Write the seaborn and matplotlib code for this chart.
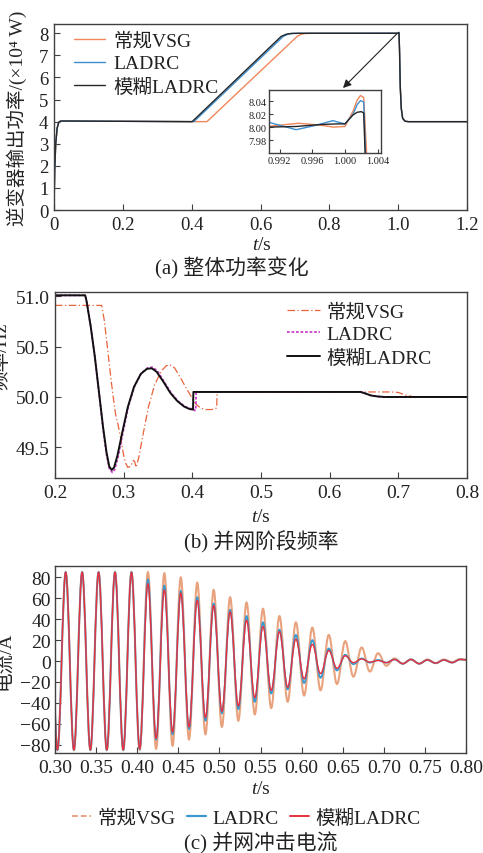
import matplotlib
matplotlib.use("Agg")
import numpy as np
import pandas as pd
import seaborn as sns
from matplotlib import pyplot as plt
from matplotlib.path import Path
from matplotlib.patches import PathPatch
from matplotlib.lines import Line2D

sns.set_theme(style="ticks")
plt.rcParams["font.family"] = ["Liberation Serif", "Noto Sans CJK SC"]
plt.rcParams["mathtext.fontset"] = "custom"
plt.rcParams["mathtext.rm"] = "Liberation Serif"
plt.rcParams["mathtext.it"] = "Liberation Serif:italic"
plt.rcParams["xtick.direction"] = "in"
plt.rcParams["ytick.direction"] = "in"
plt.rcParams["axes.edgecolor"] = "#404040"
plt.rcParams["axes.linewidth"] = 1.0
plt.rcParams["text.color"] = "#222222"
plt.rcParams["xtick.color"] = "#404040"
plt.rcParams["ytick.color"] = "#404040"
plt.rcParams["xtick.labelcolor"] = "#222222"
plt.rcParams["ytick.labelcolor"] = "#222222"

names = ["常规VSG", "LADRC", "模糊LADRC"]

# ---- (a) inverter output power, x10^4 W ----
t_a_vsg = [0, 0.002, 0.005, 0.009, 0.014, 0.02, 0.443, 0.445, 0.708, 0.72, 0.73, 0.745,
           0.9905, 0.9943, 0.997, 0.9986, 1.0, 1.001, 1.0015, 1.0019, 1.0023, 1.0027,
           1.004, 1.006, 1.009, 1.013, 1.02, 1.03, 1.2]
p_a_vsg = [0, 1.8, 3.0, 3.7, 3.98, 4.03, 4.0, 4.01, 7.88, 7.96, 7.99, 8.0,
           8.001, 8.006, 8.003, 8.000, 8.001, 8.025, 8.042, 8.049, 8.046, 7.95,
           7.2, 5.6, 4.6, 4.15, 4.02, 4.0, 4.0]
t_a_ladrc = [0, 0.002, 0.005, 0.009, 0.014, 0.02, 0.405, 0.407, 0.666, 0.68, 0.695, 0.715,
             0.9905, 0.994, 0.9965, 0.9985, 1.0, 1.001, 1.0015, 1.0019, 1.0023, 1.00255,
             1.004, 1.006, 1.009, 1.013, 1.02, 1.03, 1.2]
p_a_ladrc = [0, 1.8, 3.0, 3.7, 3.98, 4.03, 4.0, 4.01, 7.86, 7.96, 7.995, 8.0,
             8.008, 7.996, 8.003, 8.010, 8.005, 8.020, 8.035, 8.041, 8.039, 7.95,
             7.2, 5.6, 4.6, 4.15, 4.02, 4.0, 4.0]
t_a_fuzzy = [0, 0.002, 0.005, 0.009, 0.014, 0.02, 0.400, 0.402, 0.66, 0.675, 0.69, 0.71,
             0.9905, 0.994, 0.997, 0.999, 1.0, 1.0005, 1.001, 1.0015, 1.002, 1.0023, 1.0025,
             1.004, 1.006, 1.009, 1.013, 1.02, 1.03, 1.2]
p_a_fuzzy = [0, 1.8, 3.0, 3.7, 3.98, 4.03, 4.0, 4.01, 7.86, 7.96, 7.995, 8.0,
             8.000, 8.001, 8.004, 8.005, 8.005, 8.012, 8.019, 8.023, 8.024, 8.022, 7.95,
             7.2, 5.6, 4.6, 4.15, 4.02, 4.0, 4.0]

# ---- (b) frequency during grid connection, Hz ----
t_b_vsg = [0.20, 0.268, 0.272, 0.277, 0.282, 0.2875, 0.289, 0.292, 0.296, 0.300, 0.303, 0.306,
           0.310, 0.314, 0.316, 0.318, 0.322, 0.328, 0.336, 0.345, 0.355, 0.362, 0.3676,
           0.374, 0.382, 0.390, 0.397, 0.4016, 0.405, 0.412, 0.420, 0.428, 0.4355, 0.436,
           0.69, 0.70, 0.71, 0.72, 0.73, 0.80]
f_b_vsg = [50.91, 50.91, 50.75, 50.45, 50.15, 49.86, 49.80, 49.72, 49.58, 49.42, 49.34, 49.30,
           49.31, 49.37, 49.36, 49.30, 49.40, 49.62, 49.90, 50.12, 50.26, 50.31, 50.32,
           50.29, 50.20, 50.10, 50.02, 49.965, 49.93, 49.89, 49.875, 49.875, 49.89, 50.05,
           50.05, 50.045, 50.02, 50.005, 50.0, 50.0]
t_b_ladrc = [0.20, 0.244, 0.246, 0.252, 0.258, 0.264, 0.270, 0.275, 0.279, 0.2835, 0.287,
             0.292, 0.299, 0.307, 0.316, 0.326, 0.335, 0.342, 0.349, 0.359, 0.369, 0.379,
             0.389, 0.397, 0.4016, 0.4035, 0.405, 0.4055, 0.645, 0.652, 0.660, 0.670, 0.68, 0.80]
f_b_ladrc = [51.01, 51.01, 50.95, 50.70, 50.40, 50.04, 49.68, 49.43, 49.29, 49.25, 49.28,
             49.41, 49.65, 49.91, 50.11, 50.24, 50.29, 50.295, 50.26, 50.15, 50.04, 49.96,
             49.905, 49.885, 49.88, 49.865, 49.87, 50.05, 50.05, 50.035, 50.015, 50.005, 50.0, 50.0]
t_b_fuzzy = [0.20, 0.244, 0.246, 0.252, 0.258, 0.264, 0.270, 0.275, 0.279, 0.2825, 0.286,
             0.291, 0.298, 0.306, 0.315, 0.325, 0.334, 0.341, 0.348, 0.358, 0.368, 0.378,
             0.388, 0.396, 0.401, 0.4015, 0.645, 0.652, 0.660, 0.670, 0.68, 0.80]
f_b_fuzzy = [51.01, 51.01, 50.95, 50.70, 50.40, 50.05, 49.70, 49.45, 49.31, 49.275, 49.30,
             49.42, 49.65, 49.90, 50.10, 50.23, 50.28, 50.285, 50.25, 50.15, 50.04, 49.96,
             49.905, 49.88, 49.875, 50.05, 50.05, 50.035, 50.015, 50.005, 50.0, 50.0]

# ---- (c) inrush current, A: successive peaks/troughs of the 50 Hz wave ----
t_c_ext = [0.293, 0.303, 0.313, 0.323, 0.333, 0.343, 0.353, 0.363, 0.373, 0.383, 0.393,
           0.403, 0.413, 0.423, 0.433, 0.443, 0.453, 0.463, 0.473, 0.483, 0.493,
           0.503, 0.513, 0.523, 0.533, 0.543, 0.553, 0.563, 0.573, 0.583, 0.593,
           0.603, 0.613, 0.623, 0.633, 0.643, 0.653, 0.663, 0.673, 0.683, 0.693,
           0.703, 0.713, 0.723, 0.733, 0.743, 0.753, 0.763, 0.773, 0.783, 0.793, 0.803]
i_c_vsg = [85, -85, 85, -85, 85, -85, 85, -85, 85, -85, 85,
           -85, 85, -84, 84, -81, 80, -75, 75, -70, 68,
           -63, 61, -57, 56, -51, 50, -45, 43, -39, 37,
           -33, 32, -28, 25, -22, 19, -15, 13, -10, 7.5,
           -4.5, 2.5, -2.5, 1.5, -2.5, 1.5, -2, 1.5, -1, 2, 1]
i_c_ladrc = [85, -85, 85, -85, 85, -85, 85, -85, 85, -85, 85,
             -84, 78, -75, 72, -70, 67, -65, 61, -57, 55,
             -50, 49, -46, 43, -39, 37, -31, 30, -27, 25,
             -21, 20, -16, 12, -9, 6, -3, 2.5, -1.5, 1,
             -1.5, 1.5, -2.5, 1.5, -2.5, 1, -2, 1, -1.5, 1.5, 1]
i_c_fuzzy = [85, -85, 85, -85, 85, -85, 85, -85, 85, -85, 85,
             -84, 74, -74, 68, -68, 65, -63, 58, -54, 53,
             -48, 47, -43, 39, -35, 33, -28, 28, -25, 21,
             -17, 16, -12, 10, -7, 5, -1.5, 2, -1, 0.5,
             -1.5, 1.5, -2.5, 1.5, -2.5, 1, -2, 1, -1.5, 1.5, 1]

col_a = ["#f0875a", "#3d8fd0", "#262626"]
col_c = ["#e9a27e", "#3a9ad0", "#e8323e"]

fig = plt.figure(figsize=(4.83, 8.54), dpi=100)
fig.patch.set_facecolor("white")


def style_ax(ax, size):
    ax.tick_params(axis="both", which="both", direction="in", length=4, width=0.8,
                   labelsize=size, top=False, right=False, pad=4)
    for s in ax.spines.values():
        s.set_visible(True)
        s.set_color("#404040")
        s.set_linewidth(1.0)


# ================= (a) =================
ax1 = fig.add_axes([0.1118, 0.7529, 0.8551, 0.2178])
series_a = [(t_a_vsg, p_a_vsg), (t_a_ladrc, p_a_ladrc), (t_a_fuzzy, p_a_fuzzy)]
for (t, p), c, n in zip(series_a, col_a, names):
    sns.lineplot(x=t, y=p, ax=ax1, color=c, lw=1.0, label=n, sort=False, estimator=None)
ax1.set_xlim(0, 1.2)
ax1.set_ylim(0, 8.42)
ax1.set_xticks([0, 0.2, 0.4, 0.6, 0.8, 1.0, 1.2])
ax1.set_xticklabels(["0", "0.2", "0.4", "0.6", "0.8", "1.0", "1.2"])
ax1.set_yticks(range(0, 9))
style_ax(ax1, 13.5)
ax1.set_ylabel("逆变器输出功率/(×10⁴ W)", fontsize=14)
ax1.yaxis.set_label_coords(-0.065, 0.5)
ax1.set_xlabel("")
ax1.legend(loc="upper left", bbox_to_anchor=(0.03, 1.0), frameon=False, fontsize=14,
           handlelength=1.6, handletextpad=0.4, labelspacing=0.25, borderaxespad=0.0)

axin = fig.add_axes([0.557, 0.8193, 0.2319, 0.0745])
for (t, p), c in zip(series_a, col_a):
    sns.lineplot(x=t, y=p, ax=axin, color=c, lw=1.0, sort=False, estimator=None)
axin.set_xlim(0.99068, 1.00443)
axin.set_ylim(7.9594, 8.058)
axin.set_xticks([0.992, 0.996, 1.000, 1.004])
axin.set_xticklabels(["0.992", "0.996", "1.000", "1.004"])
axin.set_yticks([7.98, 8.00, 8.02, 8.04])
axin.set_yticklabels(["7.98", "8.00", "8.02", "8.04"])
style_ax(axin, 7.5)
axin.tick_params(length=3, pad=2)
axin.set_xlabel("")
axin.set_ylabel("")

ax1.annotate("", xy=(343 / 483, 1 - 89 / 854), xycoords="figure fraction",
             xytext=(0.997, 7.99), textcoords="data",
             arrowprops=dict(arrowstyle="-|>", color="#222222", lw=0.8,
                             mutation_scale=12, shrinkA=0, shrinkB=0))

fig.text(262 / 483, 1 - 245 / 854, "$t$/s", ha="center", va="center", fontsize=14)
fig.text(232 / 483, 1 - 268 / 854, "(a) 整体功率变化", ha="center", va="center", fontsize=15)

# ================= (b) =================
ax2 = fig.add_axes([0.1139, 0.4391, 0.853, 0.2178])
sns.lineplot(x=t_b_vsg, y=f_b_vsg, ax=ax2, color="#e8643c", lw=0.9,
             linestyle=(0, (6, 2, 1, 2)), label=names[0], sort=False, estimator=None)
sns.lineplot(x=t_b_ladrc, y=f_b_ladrc, ax=ax2, color="#cc3fcc", lw=1.3,
             linestyle=(0, (1.5, 1)), label=names[1], sort=False, estimator=None)
sns.lineplot(x=t_b_fuzzy, y=f_b_fuzzy, ax=ax2, color="#111111", lw=1.4,
             label=names[2], sort=False, estimator=None)
ax2.set_xlim(0.2, 0.8)
ax2.set_ylim(49.195, 51.043)
ax2.set_xticks([0.2, 0.3, 0.4, 0.5, 0.6, 0.7, 0.8])
ax2.set_yticks([49.5, 50.0, 50.5, 51.0])
ax2.set_yticklabels(["49.5", "50.0", "50.5", "51.0"])
style_ax(ax2, 14)
ax2.set_ylabel("频率/Hz", fontsize=14)
ax2.yaxis.set_label_coords(-0.109, 0.661)
ax2.set_xlabel("")
ax2.legend(loc="upper left", bbox_to_anchor=(0.545, 0.985), frameon=False, fontsize=14,
           handlelength=1.7, handletextpad=0.3, labelspacing=0.25, borderaxespad=0.0)

fig.text(261 / 483, 1 - 517 / 854, "$t$/s", ha="center", va="center", fontsize=14)
fig.text(261 / 483, 1 - 542 / 854, "(b) 并网阶段频率", ha="center", va="center", fontsize=15)

# ================= (c) =================
ax3 = fig.add_axes([0.1139, 0.1171, 0.851, 0.219])
k = 0.363  # bezier handle giving a half-cosine shape between extrema


def wave_path(t, v):
    verts = [(t[0], v[0])]
    codes = [Path.MOVETO]
    for j in range(len(t) - 1):
        h = t[j + 1] - t[j]
        verts += [(t[j] + k * h, v[j]), (t[j + 1] - k * h, v[j + 1]), (t[j + 1], v[j + 1])]
        codes += [Path.CURVE4] * 3
    return Path(verts, codes)


for vals, c, w in zip([i_c_vsg, i_c_ladrc, i_c_fuzzy], col_c, [1.5, 1.3, 1.0]):
    ax3.add_patch(PathPatch(wave_path(t_c_ext, vals), fill=False, edgecolor=c, lw=w))
ax3.set_xlim(0.30, 0.80)
ax3.set_ylim(-88, 91)
ax3.set_xticks([0.30, 0.35, 0.40, 0.45, 0.50, 0.55, 0.60, 0.65, 0.70, 0.75, 0.80])
ax3.set_xticklabels(["0.30", "0.35", "0.40", "0.45", "0.50", "0.55", "0.60",
                     "0.65", "0.70", "0.75", "0.80"])
ax3.set_yticks(range(-80, 81, 20))
style_ax(ax3, 14)
ax3.tick_params(axis="y", pad=3)
ax3.set_ylabel("电流/A", fontsize=14)
ax3.yaxis.set_label_coords(-0.102, 0.497)

handles = [Line2D([], [], color=col_c[0], lw=1.4, linestyle=(0, (3, 1.5))),
           Line2D([], [], color=col_c[1], lw=1.6),
           Line2D([], [], color=col_c[2], lw=1.4)]
fig.legend(handles, names, loc="center", bbox_to_anchor=(246 / 483, 1 - 819 / 854), ncol=3,
           frameon=False, fontsize=14, handlelength=1.0, handletextpad=0.3,
           columnspacing=0.6, borderaxespad=0.0)

fig.text(261 / 483, 1 - 790 / 854, "$t$/s", ha="center", va="center", fontsize=14)
fig.text(261 / 483, 1 - 843 / 854, "(c) 并网冲击电流", ha="center", va="center", fontsize=15)

fig.savefig("out.png", dpi=100, facecolor="white")
